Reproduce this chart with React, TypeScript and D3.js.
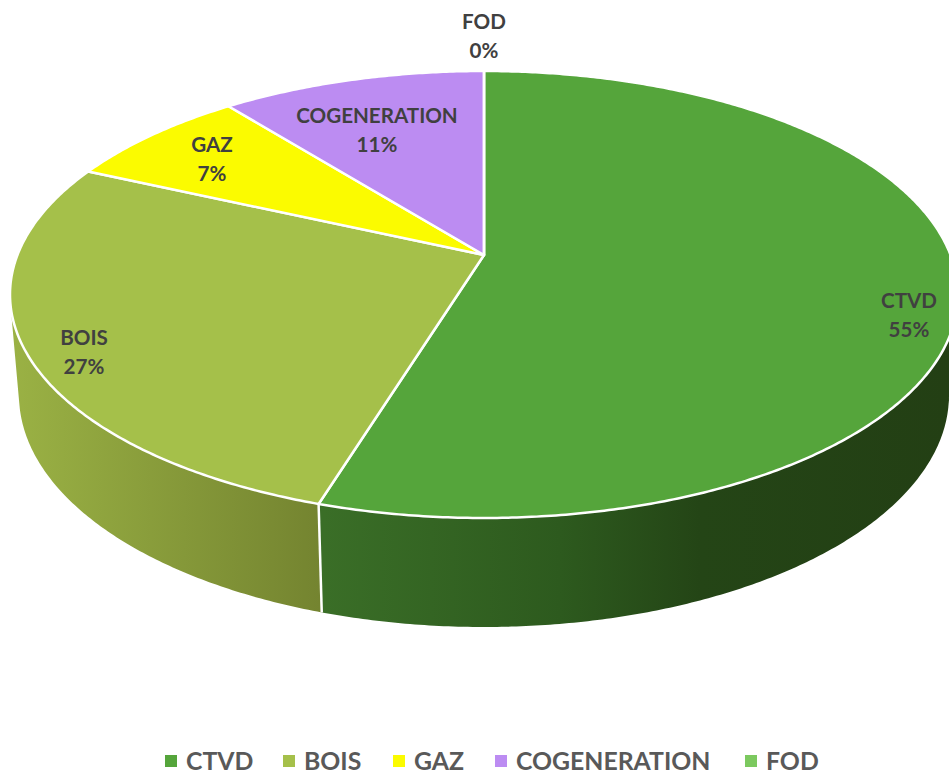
import React from "react";
import * as d3 from "d3";

const categories = ["CTVD", "BOIS", "GAZ", "COGENERATION", "FOD"];
const shares = [54.7, 27.0, 7.49, 10.7, 0];
const faceColors = ["#55a53b", "#a5c04a", "#fbfb00", "#bc8cf2", "#7cc95f"];

// Side wall colour ramps, left to right
const wallRamps: Record<string, [number, string][]> = {
  CTVD: [[324, "#3a6e27"], [560, "#2d5a1e"], [700, "#244516"], [949, "#233f14"]],
  BOIS: [[15, "#9ab144"], [320, "#748430"]],
};

const W = 949;
const H = 774;
const topRim = { cx: 484, cy: 294.5, rx: 474, ry: 223.5 };
const bottomRim = { cx: 484, cy: 395, rx: 465, ry: 232 };
const K = -0.1767; // perspective shift of the pie's centre

// Place a unit-disc point (clockwise angle from 12 o'clock) on a rim in perspective
function project(rim: typeof topRim, angle: number, r = 1): [number, number] {
  const u = r * Math.sin(angle);
  const v = -r * Math.cos(angle);
  const d = 1 + K * v;
  return [
    rim.cx + (rim.rx * Math.sqrt(1 - K * K) * u) / d,
    rim.cy + (rim.ry * (v + K)) / d,
  ];
}

const labelSpots = [
  { x: 909, y: 300 },
  { x: 84, y: 337 },
  { x: 212, y: 144 },
  { x: 377, y: 115 },
  { x: 484, y: 21 },
];
const legendSpots = [165, 283, 393, 495, 745];

const arcs = d3.pie<number>().sort(null).value((d) => d)(shares);
const total = d3.sum(shares);
const line = d3.line();
const STEP = Math.PI / 360;

function sampleAngles(a0: number, a1: number): number[] {
  const n = Math.max(1, Math.ceil((a1 - a0) / STEP));
  return d3.range(n + 1).map((i) => a0 + ((a1 - a0) * i) / n);
}

function facePath(a0: number, a1: number): string {
  const apex = project(topRim, 0, 0);
  return (line([apex, ...sampleAngles(a0, a1).map((a) => project(topRim, a))]) || "") + "Z";
}

function wallPath(a0: number, a1: number): string {
  const angles = sampleAngles(a0, a1);
  return d3
    .pairs(angles)
    .map(([p, q]) => {
      const quad: [number, number][] = [
        project(topRim, p),
        project(topRim, q),
        project(bottomRim, q),
        project(bottomRim, p),
      ];
      if (d3.polygonArea(quad) < 0) quad.reverse();
      return (line(quad) || "") + "Z";
    })
    .join("");
}

export default function App() {
  const fontFamily = "Lato, 'Open Sans', sans-serif";
  return (
    <svg
      width={W}
      height={H}
      viewBox={`0 0 ${W} ${H}`}
      style={{ position: "absolute", left: 0, top: 0, background: "#fff" }}
    >
      <defs>
        {Object.entries(wallRamps).map(([name, ramp]) => {
          const x0 = ramp[0][0];
          const x1 = ramp[ramp.length - 1][0];
          return (
            <linearGradient key={name} id={`wall-${name}`} gradientUnits="userSpaceOnUse" x1={x0} x2={x1} y1={0} y2={0}>
              {ramp.map(([x, c]) => (
                <stop key={x} offset={(x - x0) / (x1 - x0)} stopColor={c} />
              ))}
            </linearGradient>
          );
        })}
      </defs>

      {arcs.map((arc, i) =>
        wallRamps[categories[i]] ? (
          <path key={categories[i]} d={wallPath(arc.startAngle, arc.endAngle)} fill={`url(#wall-${categories[i]})`} />
        ) : null
      )}
      {arcs.slice(0, 1).map((arc) => {
        const p = project(topRim, arc.endAngle);
        const q = project(bottomRim, arc.endAngle);
        return <line key="sep" x1={p[0]} y1={p[1]} x2={q[0]} y2={q[1]} stroke="#fff" strokeWidth={2.5} />;
      })}

      {arcs.map((arc, i) => (
        <path
          key={categories[i]}
          d={facePath(arc.startAngle, arc.endAngle)}
          fill={faceColors[i]}
          stroke="#fff"
          strokeWidth={2.5}
          strokeLinejoin="round"
        />
      ))}

      {categories.map((c, i) => (
        <text key={c} textAnchor="middle" fontFamily={fontFamily} fontWeight={700} fontSize={20.6} fill="#404040">
          <tspan x={labelSpots[i].x} y={labelSpots[i].y + 7.5}>{c}</tspan>
          <tspan x={labelSpots[i].x} y={labelSpots[i].y + 36.5}>{`${Math.round((shares[i] / total) * 100 - 0.02)}%`}</tspan>
        </text>
      ))}

      {categories.map((c, i) => (
        <g key={c}>
          <rect x={legendSpots[i]} y={755} width={12} height={12} fill={faceColors[i]} />
          <text x={legendSpots[i] + 21} y={770} fontFamily={fontFamily} fontWeight={700} fontSize={24.8} fill="#595959">
            {c}
          </text>
        </g>
      ))}
    </svg>
  );
}
